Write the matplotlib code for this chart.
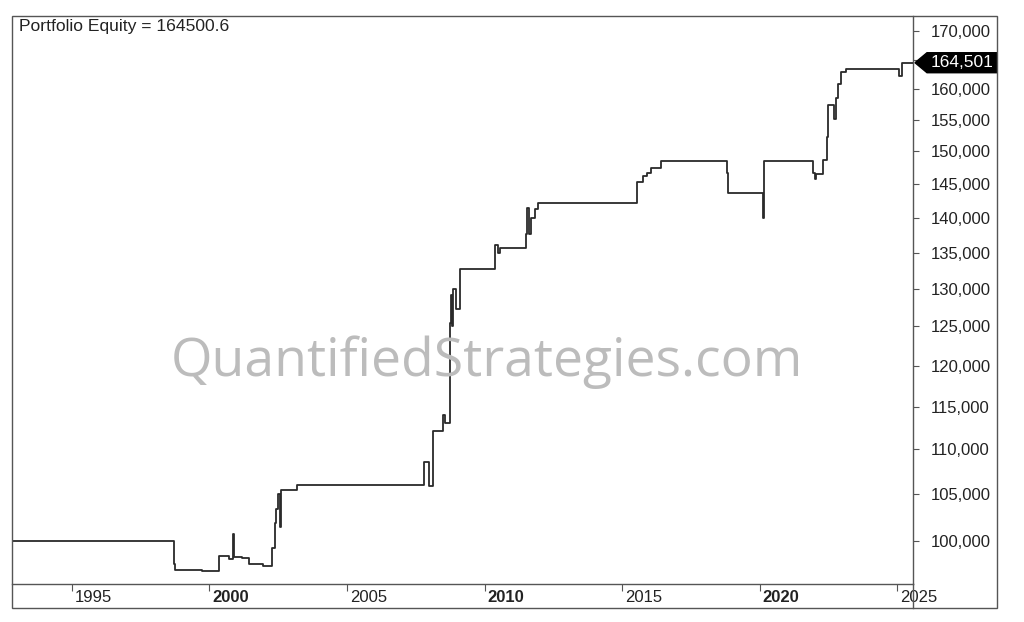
import matplotlib
matplotlib.use("Agg")
import matplotlib.pyplot as plt
import matplotlib.transforms as mtransforms
from matplotlib.patches import Rectangle, Polygon
from matplotlib.lines import Line2D
from matplotlib.ticker import FixedLocator, NullLocator, FuncFormatter

# ---- data (decimal year, portfolio equity), step-wise ----
dates = [1992.82, 1998.71, 1998.75, 1999.73, 2000.35, 2000.71, 2000.85, 2000.88,
         2001.18, 2001.45, 2001.95, 2002.27, 2002.38, 2002.42, 2002.48, 2002.55,
         2002.60, 2003.18, 2007.80, 2007.98, 2008.13, 2008.50, 2008.55, 2008.75,
         2008.78, 2008.82, 2008.85, 2008.95, 2009.10, 2010.38, 2010.48, 2010.55,
         2011.50, 2011.55, 2011.60, 2011.70, 2011.85, 2011.95, 2015.55, 2015.75,
         2015.92, 2016.05, 2016.40, 2018.80, 2018.87, 2020.13, 2020.18, 2021.95,
         2022.00, 2022.07, 2022.32, 2022.45, 2022.50, 2022.70, 2022.78, 2022.85,
         2022.95, 2023.15, 2025.07, 2025.18, 2025.58]
equity = [100000, 97600, 97000, 96900, 98450, 98150, 100700, 98350,
          98200, 97650, 97450, 99300, 101900, 103400, 105000, 101400,
          105450, 106000, 108600, 105900, 112150, 114050, 113000, 125400,
          129100, 125000, 130000, 127250, 132750, 136100, 135000, 135600,
          137700, 141400, 137600, 140000, 141200, 142100, 145300, 146200,
          146600, 147400, 148450, 146600, 143700, 139900, 148500, 146600,
          145800, 146500, 148700, 152300, 157400, 155200, 158600, 160900,
          163000, 163500, 162300, 164500.6, 164500.6]

x_ticks = [1995, 2000, 2005, 2010, 2015, 2020, 2025]
bold_years = [2000, 2010, 2020]
y_ticks = [100000, 105000, 110000, 115000, 120000, 125000, 130000, 135000,
           140000, 145000, 150000, 155000, 160000, 165000, 170000]
hidden_y_labels = [165000]  # covered by the last-value marker in the reference
title_text = "Portfolio Equity = 164500.6"
watermark = "QuantifiedStrategies.com"

W, H = 1024, 622
fig = plt.figure(figsize=(W / 100, H / 100), dpi=100)
fig.patch.set_facecolor("white")

L, R, T, B = 12, 913, 16, 584
ax = fig.add_axes([L / W, (H - B) / H, (R - L) / W, (B - T) / H])
frame_col = "#555555"
txt_col = "#222222"

ax.set_yscale("log")
ax.set_xlim(1992.82, 2025.58)
ax.set_ylim(95600, 172700)

# watermark behind the line
fig.text(487 / W, 1 - 362 / H, watermark, ha="center", va="center",
         fontsize=38.5, color="#bcbcbc", family="Open Sans", zorder=0)

ax.plot(dates, equity, drawstyle="steps-post", color="#2a2a2a", lw=1.3, zorder=3)
ax.patch.set_alpha(0)

for s in ["left", "top"]:
    ax.spines[s].set_visible(False)
for s in ["right", "bottom"]:
    ax.spines[s].set_color(frame_col)
    ax.spines[s].set_linewidth(1.0)

# y axis on right
ax.yaxis.tick_right()
ax.yaxis.set_major_locator(FixedLocator(y_ticks))
ax.yaxis.set_minor_locator(NullLocator())
ax.yaxis.set_major_formatter(FuncFormatter(
    lambda v, p: "" if int(round(v)) in hidden_y_labels else f"{int(round(v)):,}"))
ax.tick_params(axis="y", which="major", direction="out", length=4, width=0.8,
               color=frame_col, labelsize=12, labelcolor=txt_col, pad=9)
for lab in ax.get_yticklabels():
    lab.set_family("Liberation Sans")

# x axis: tick marks and labels to the right of tick
ax.xaxis.set_major_locator(FixedLocator(x_ticks))
ax.xaxis.set_minor_locator(NullLocator())
ax.set_xticklabels([])
ax.tick_params(axis="x", which="major", direction="out", length=5, width=0.8,
               color=frame_col)
xt = ax.get_xaxis_transform()
for yr in x_ticks:
    ax.annotate(str(yr), xy=(yr, 0), xycoords=xt, xytext=(2.0, -10),
                textcoords="offset points", ha="left", va="center",
                fontsize=12, family="Liberation Sans", color=txt_col,
                fontweight="bold" if yr in bold_years else "normal",
                annotation_clip=False)

# title text
ax.text(7 / (R - L), 1 - 11 / (B - T), title_text, transform=ax.transAxes,
        ha="left", va="center", fontsize=12.6, family="Liberation Sans",
        color=txt_col)

# outer frame and divider
fig.patches.append(Rectangle((L / W, (H - 608) / H), (997 - L) / W, (608 - T) / H,
                             transform=fig.transFigure, fill=False,
                             edgecolor=frame_col, lw=1.0))
fig.lines.append(Line2D([R / W, R / W], [(H - 608) / H, (H - B) / H],
                        transform=fig.transFigure, color=frame_col, lw=1.0))

# last value marker box
last = equity[-1]
anchor = mtransforms.ScaledTranslation(1, last, ax.get_yaxis_transform())
tr = fig.dpi_scale_trans + anchor
poly = Polygon([(0.02, 0), (0.14, 0.10), (0.84, 0.10), (0.84, -0.10), (0.14, -0.10)],
               closed=True, transform=tr, facecolor="black", edgecolor="black",
               clip_on=False, zorder=5)
ax.add_patch(poly)
ax.text(0.18, 0, f"{round(last):,}", transform=tr, ha="left", va="center",
        fontsize=12.5, family="Liberation Sans", color="white", zorder=6,
        clip_on=False)

fig.savefig("out.png", dpi=100, facecolor="white")
